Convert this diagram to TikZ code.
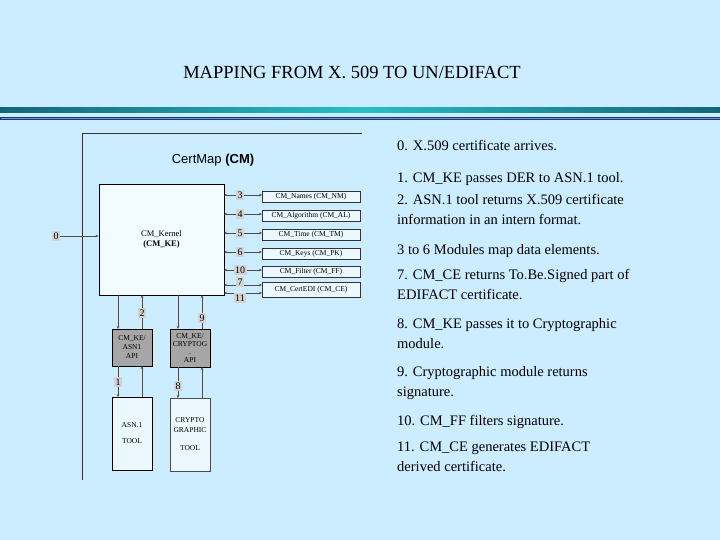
\documentclass[tikz,border=0pt]{standalone}
\usepackage{fontspec}
\setmainfont{Liberation Serif}
\newfontfamily\arialf{Liberation Sans}
\usetikzlibrary{arrows.meta}
\definecolor{bgc}{RGB}{204,236,255}
\definecolor{tealdark}{RGB}{20,100,120}
\definecolor{teallight}{RGB}{40,190,200}
\definecolor{bardraw}{RGB}{20,60,110}
\definecolor{barfill}{RGB}{120,140,220}
\begin{document}
\begin{tikzpicture}[x=1pt,y=-1pt,
  mod/.style={draw=black!80,fill=cyan!8,minimum width=98pt,inner sep=0pt,font=\fontsize{7.5}{8}\selectfont},
  num/.style={fill=gray!35,inner sep=1.5pt,font=\fontsize{10}{11}\selectfont},
  ln/.style={draw=black!70,line width=0.6pt},
  tip/.style={-{Stealth[length=3pt,width=2.5pt]}},
  dtip/.style={{Stealth[length=3pt,width=2.5pt]}-{Stealth[length=3pt,width=2.5pt]}},
  txt/.style={anchor=north west,align=left,font=\fontsize{14.5}{20}\selectfont,inner sep=0pt}]
\fill[bgc] (0,0) rectangle (720,540);
\useasboundingbox (0,0) rectangle (720,540);
\node[font=\fontsize{18.5}{20}\selectfont] (title) at (352,72) {MAPPING FROM X.~509 TO UN/EDIFACT};
\shade[left color=tealdark,right color=tealdark,middle color=teallight] (0,108) rectangle (720,113);
\draw[bardraw,fill=barfill] (0,117) rectangle (720,119);
% frame
\draw[black!80,line width=0.7pt] (82,480) -- (82,133) -- (362,133);
\node[font=\arialf\fontsize{13}{15}\selectfont] (cm) at (213,160) {CertMap \textbf{(CM)}};
\node[draw=black,line width=0.8pt,minimum width=125pt,minimum height=111pt,inner sep=0pt,fill=cyan!5,align=center,font=\fontsize{8.5}{10}\selectfont] (ke) at (161.5,239.5) {CM\_Kernel\\\textbf{(CM\_KE)}};
\node[mod,minimum height=11pt] (m3) at (311,196.5) {CM\_Names (CM\_NM)};
\node[mod,minimum height=11pt] (m4) at (311,215.5) {CM\_Algorithm (CM\_AL)};
\node[mod,minimum height=11pt] (m5) at (311,234.5) {CM\_Time (CM\_TM)};
\node[mod,minimum height=11pt] (m6) at (311,253.5) {CM\_Keys (CM\_PK)};
\node[mod,minimum height=11pt] (m10) at (311,271.5) {CM\_Filter (CM\_FF)};
\node[mod,minimum height=15pt] (m7) at (311,289.5) {CM\_CertEDI (CM\_CE)};
\foreach \n/\y in {3/195,4/214,5/233,6/252,10/270} {
  \draw[ln,dtip] (224,\y) -- (262,\y);
  \node[num] (n\n) at (240,\y) {\n};
}
\draw[ln,dtip] (224,285) -- (262,285);
\draw[ln,dtip] (224,293) -- (262,293);
\node[num] (n7) at (240,282) {7};
\node[num] (n11) at (240,298) {11};
\node[num] (n0) at (56,236) {0};
\draw[ln,tip] (n0) -- (ke.west |- n0);
% lower boxes
\node[draw=black,fill=gray!70,minimum width=40pt,minimum height=37pt,inner sep=0pt,align=center,font=\fontsize{7.5}{9}\selectfont] (api1) at (132,347.5) {CM\_KE/\\ASN1\\API};
\node[draw=black,fill=gray!70,minimum width=40pt,minimum height=38pt,inner sep=0pt,align=center,font=\fontsize{7.5}{8}\selectfont] (api2) at (190,348) {CM\_KE/\\CRYPTOG\\.\\API};
\node[draw=black,fill=cyan!8,minimum width=40pt,minimum height=73pt,inner sep=0pt,align=center,font=\fontsize{7.5}{10}\selectfont] (t1) at (132,433.5) {ASN.1\\[6pt]TOOL};
\node[draw=black!70,fill=cyan!8,minimum width=40pt,minimum height=73pt,inner sep=0pt,align=center,font=\fontsize{7.5}{10}\selectfont] (t2) at (190,434.5) {CRYPTO\\GRAPHIC\\[8pt]TOOL};
\draw[ln,tip] (118,295) -- (118,329);
\draw[ln,tip] (142,329) -- (142,295);
\draw[ln,tip] (178,295) -- (178,329);
\draw[ln,tip] (202,329) -- (202,295);
\draw[ln,tip] (118,366) -- (118,397);
\draw[ln,tip] (142,397) -- (142,366);
\draw[ln,tip] (178,367) -- (178,398);
\draw[ln,tip] (202,398) -- (202,367);
\node[num] (n2) at (142,313) {2};
\node[num] (n9) at (202,318) {9};
\node[num] (n1) at (118,382) {1};
\node[num] (n8) at (178,386) {8};
% text
\node[txt] (a) at (397,140) {0. X.509 certificate arrives.};
\node[txt] (b) at (397,172) {1. CM\_KE passes DER to ASN.1 tool.};
\node[txt] (c) at (397,194) {2. ASN.1 tool returns X.509 certificate\\information in an intern format.};
\node[txt] (d) at (397,244) {3 to 6 Modules map data elements.};
\node[txt] (e) at (397,269) {7. CM\_CE returns To.Be.Signed part of\\EDIFACT certificate.};
\node[txt] (f) at (397,318) {8. CM\_KE passes it to Cryptographic\\module.};
\node[txt] (g) at (397,366) {9. Cryptographic module returns\\signature.};
\node[txt] (h) at (397,415) {10. CM\_FF filters signature.};
\node[txt] (i) at (397,442) {11. CM\_CE generates EDIFACT\\derived certificate.};
\end{tikzpicture}
\end{document}
